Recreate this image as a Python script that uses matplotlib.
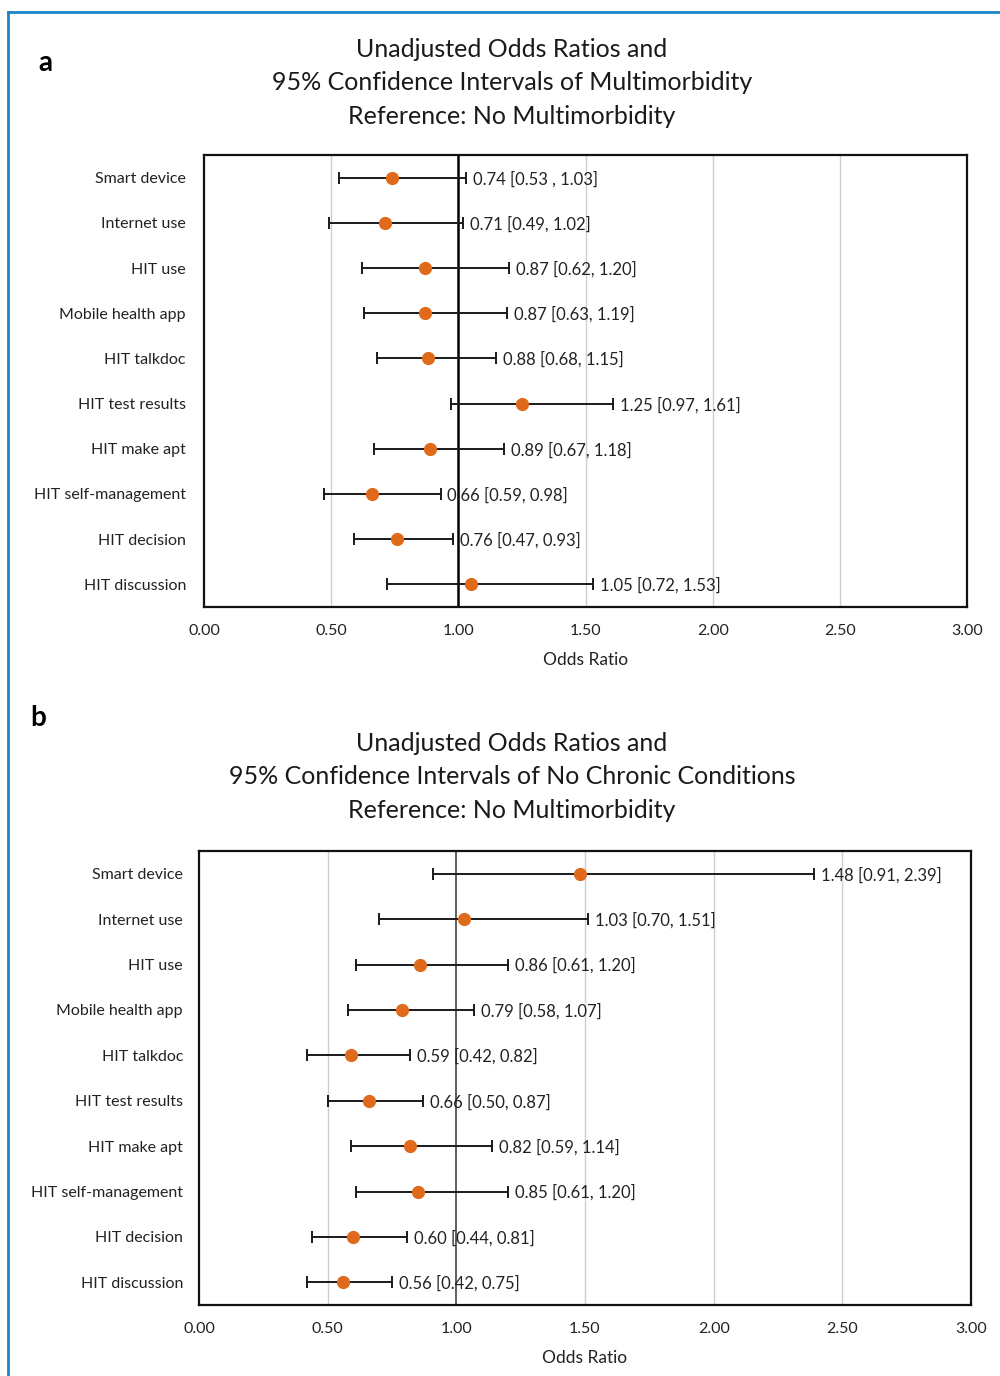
import matplotlib
matplotlib.use("Agg")
import matplotlib.pyplot as plt
from matplotlib.lines import Line2D

plt.rcParams['font.family'] = ['Lato', 'DejaVu Sans']

categories = ["Smart device", "Internet use", "HIT use", "Mobile health app", "HIT talkdoc",
              "HIT test results", "HIT make apt", "HIT self-management", "HIT decision",
              "HIT discussion"]

# Panel a: odds ratios and drawn interval ends (as seen in the figure)
a_or = [0.74, 0.71, 0.87, 0.87, 0.88, 1.25, 0.89, 0.66, 0.76, 1.05]
a_low = [0.53, 0.49, 0.62, 0.63, 0.68, 0.97, 0.67, 0.47, 0.59, 0.72]
a_high = [1.03, 1.02, 1.20, 1.19, 1.15, 1.61, 1.18, 0.93, 0.98, 1.53]
a_labels = ["0.74 [0.53 , 1.03]", "0.71 [0.49, 1.02]", "0.87 [0.62, 1.20]", "0.87 [0.63, 1.19]",
            "0.88 [0.68, 1.15]", "1.25 [0.97, 1.61]", "0.89 [0.67, 1.18]", "0.66 [0.59, 0.98]",
            "0.76 [0.47, 0.93]", "1.05 [0.72, 1.53]"]

# Panel b
b_or = [1.48, 1.03, 0.86, 0.79, 0.59, 0.66, 0.82, 0.85, 0.60, 0.56]
b_low = [0.91, 0.70, 0.61, 0.58, 0.42, 0.50, 0.59, 0.61, 0.44, 0.42]
b_high = [2.39, 1.51, 1.20, 1.07, 0.82, 0.87, 1.14, 1.20, 0.81, 0.75]
b_labels = ["1.48 [0.91, 2.39]", "1.03 [0.70, 1.51]", "0.86 [0.61, 1.20]", "0.79 [0.58, 1.07]",
            "0.59 [0.42, 0.82]", "0.66 [0.50, 0.87]", "0.82 [0.59, 1.14]", "0.85 [0.61, 1.20]",
            "0.60 [0.44, 0.81]", "0.56 [0.42, 0.75]"]

xticks = [0.0, 0.5, 1.0, 1.5, 2.0, 2.5, 3.0]

title_a = "Unadjusted Odds Ratios and\n95% Confidence Intervals of Multimorbidity\nReference: No Multimorbidity"
title_b = "Unadjusted Odds Ratios and\n95% Confidence Intervals of No Chronic Conditions\nReference: No Multimorbidity"

W, H = 1000, 1376
fig = plt.figure(figsize=(W / 100, H / 100), dpi=100)
fig.patch.set_facecolor("white")

orange = "#E06A1B"


def fx(px):
    return px / W


def fy(py):
    return 1 - py / H


def panel(rect, orv, low, high, labels, one_lw, one_color, ypad):
    ax = fig.add_axes(rect)
    y = list(range(len(categories)))
    for g in [0.5, 1.5, 2.0, 2.5]:
        ax.axvline(g, color="#cfcfcf", lw=1.0, zorder=0)
    ax.axvline(1.0, color=one_color, lw=one_lw, zorder=1)
    xerr = [[o - l for o, l in zip(orv, low)], [h - o for o, h in zip(orv, high)]]
    ax.errorbar(orv, y, xerr=xerr, fmt="none", ecolor="#1a1a1a", elinewidth=1.4,
                capsize=4, capthick=1.4, zorder=2)
    ax.plot(orv, y, "o", color=orange, markersize=8.5, zorder=3)
    for h, yy, lab in zip(high, y, labels):
        ax.annotate(lab, (h, yy), xytext=(5, -1), textcoords="offset points",
                    va="center", ha="left", fontsize=12, color="#222222", zorder=4)
    ax.set_xlim(0, 3)
    ax.set_ylim(len(categories) - 0.5, -0.5)
    ax.set_yticks(y)
    ax.set_yticklabels(categories, fontsize=11.5, color="#222222")
    ax.set_xticks(xticks)
    ax.set_xticklabels([f"{t:.2f}" for t in xticks], fontsize=11.5, color="#222222")
    ax.tick_params(length=0, pad=12)
    ax.tick_params(axis="y", pad=ypad)
    for s in ax.spines.values():
        s.set_linewidth(1.6)
        s.set_color("#111111")
    ax.set_xlabel("Odds Ratio", fontsize=12.5, color="#222222", labelpad=10)
    return ax


panel([fx(204), fy(607), fx(967 - 204), (607 - 155) / H], a_or, a_low, a_high, a_labels, 1.8, "#000000", 13)
panel([fx(199), fy(1305), fx(971 - 199), (1305 - 851) / H], b_or, b_low, b_high, b_labels, 1.1, "#333333", 11.5)

fig.text(fx(512), fy(83), title_a, ha="center", va="center", fontsize=18,
         linespacing=1.55, color="#1a1a1a")
fig.text(fx(512), fy(777), title_b, ha="center", va="center", fontsize=18,
         linespacing=1.55, color="#1a1a1a")

fig.text(fx(45), fy(63), "a", ha="center", va="center", fontsize=20, fontweight="bold")
fig.text(fx(38), fy(718), "b", ha="center", va="center", fontsize=20, fontweight="bold")

# blue frame
blue = "#1C86C6"
fig.add_artist(Line2D([fx(8), 1.0], [fy(12), fy(12)], color=blue, lw=2, transform=fig.transFigure))
fig.add_artist(Line2D([fx(8), fx(8)], [fy(12), 0.0], color=blue, lw=2, transform=fig.transFigure))

fig.savefig("out.png", dpi=100)
